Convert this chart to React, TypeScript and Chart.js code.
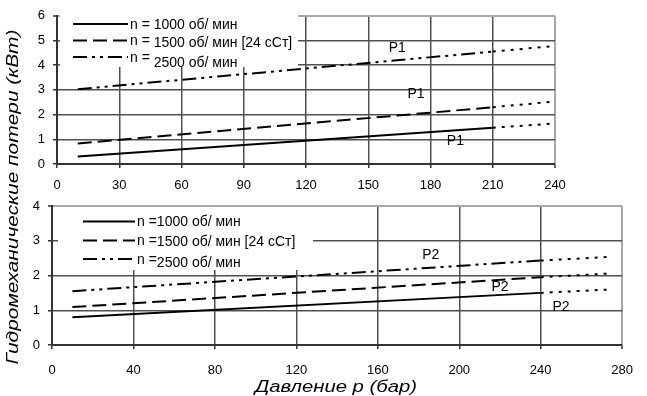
import React, { useEffect, useRef } from 'react';
import { Chart, registerables } from 'chart.js';

Chart.register(...registerables);

// ---------- DATA ----------
const topXTicks = [0, 30, 60, 90, 120, 150, 180, 210, 240];
const topYTicks = [0, 1, 2, 3, 4, 5, 6];
const bottomXTicks = [0, 40, 80, 120, 160, 200, 240, 280];
const bottomYTicks = [0, 1, 2, 3, 4];

// top chart (P1)
const topPressure = [10, 210];
const topPressureExt = [210, 240];
const top1000 = [0.3, 1.47];
const top1000Ext = [1.47, 1.64];
const top1500 = [0.83, 2.3];
const top1500Ext = [2.3, 2.53];
const top2500 = [3.03, 4.55];
const top2500Ext = [4.55, 4.78];

// bottom chart (P2)
const bottomPressure = [10, 240];
const bottomPressureExt = [240, 275];
const bottom1000 = [0.8, 1.5];
const bottom1000Ext = [1.5, 1.6];
const bottom1500 = [1.09, 1.95];
const bottom1500Ext = [1.95, 2.06];
const bottom2500 = [1.55, 2.43];
const bottom2500Ext = [2.43, 2.54];

const topLegendPrefix = ['n = ', 'n = ', 'n = '];
const topLegendText = ['1000 об/ мин', '1500 об/ мин [24 сСт]', '2500 об/ мин'];
const bottomLegendPrefix = ['n =', 'n =', 'n ='];
const bottomLegendText = ['1000 об/ мин', '1500 об/ мин [24 сСт]', '2500 об/ мин'];

const topNoteText = ['P1', 'P1', 'P1'];
const topNoteX = [164, 173, 192];
const topNoteY = [4.68, 2.81, 0.93];
const bottomNoteText = ['P2', 'P2', 'P2'];
const bottomNoteX = [186, 220, 250];
const bottomNoteY = [2.59, 1.66, 1.08];

const xTitle = 'Давление р (бар)';
const yTitle = 'Гидромеханические потери (кВт)';

// ---------- STYLE ----------
const FONT = '"Liberation Sans", Arial, sans-serif';
const SOLID: number[] = [];
const DASH = [14, 6];
const DASHDOT = [14, 5, 3, 5, 3, 5];
const DOT = [3, 6];

function ds(xs: number[], ys: number[], dash: number[]) {
  return {
    data: xs.map((x, i) => ({ x, y: ys[i] })),
    borderColor: '#000',
    borderWidth: 2,
    borderDash: dash,
    pointRadius: 0,
    fill: false,
    tension: 0,
  };
}

function axes(xTicks: number[], yTicks: number[], yWidth: number, xHeight: number, xPad: number) {
  const gridColor = (max: number) => (c: any) =>
    c.tick && c.tick.value === max ? '#a8a8a8' : '#505050';
  const xMax = xTicks[xTicks.length - 1];
  const yMax = yTicks[yTicks.length - 1];
  return {
    x: {
      type: 'linear',
      min: xTicks[0],
      max: xMax,
      afterBuildTicks: (s: any) => { s.ticks = xTicks.map((v) => ({ value: v })); },
      afterFit: (s: any) => { s.height = xHeight; },
      ticks: { font: { size: 13, family: FONT }, color: '#000', padding: xPad, maxRotation: 0, autoSkip: false },
      grid: { color: gridColor(xMax), lineWidth: (c: any) => (c.tick && c.tick.value === xMax ? 2 : 1.5), tickLength: 4, tickColor: '#333', tickWidth: 1.5 },
      border: { display: true, color: '#333', width: 2 },
    },
    y: {
      type: 'linear',
      min: yTicks[0],
      max: yMax,
      afterBuildTicks: (s: any) => { s.ticks = yTicks.map((v) => ({ value: v })); },
      afterFit: (s: any) => { s.width = yWidth; },
      ticks: { font: { size: 13, family: FONT }, color: '#000', padding: 8 },
      grid: { color: gridColor(yMax), lineWidth: (c: any) => (c.tick && c.tick.value === yMax ? 2 : 1.5), tickLength: 4, tickColor: '#333', tickWidth: 1.5 },
      border: { display: true, color: '#333', width: 2 },
    },
  };
}

function overlayPlugin(cfg: {
  box: [number, number, number, number];
  lineX: [number, number];
  textX: number;
  rowY: number[];
  textDy: number[];
  prefix: string[];
  text: string[];
  dashes: number[][];
  notes: string[];
  noteX: number[];
  noteY: number[];
  titles?: boolean;
}) {
  return {
    id: 'overlay' + Math.random().toString(36).slice(2),
    afterDatasetsDraw(chart: any) {
      const ctx = chart.ctx as CanvasRenderingContext2D;
      const [bx, by, bw, bh] = cfg.box;
      ctx.save();
      ctx.fillStyle = '#fff';
      ctx.fillRect(bx, by, bw, bh);
      ctx.strokeStyle = '#000';
      ctx.lineWidth = 2;
      cfg.rowY.forEach((y, i) => {
        ctx.setLineDash(cfg.dashes[i]);
        ctx.beginPath();
        ctx.moveTo(cfg.lineX[0], y);
        ctx.lineTo(cfg.lineX[1], y);
        ctx.stroke();
      });
      ctx.setLineDash([]);
      ctx.fillStyle = '#000';
      ctx.font = `14px ${FONT}`;
      ctx.textBaseline = 'middle';
      ctx.textAlign = 'left';
      cfg.rowY.forEach((y, i) => {
        const pw = ctx.measureText(cfg.prefix[i]).width;
        ctx.fillText(cfg.prefix[i], cfg.textX, y + 1);
        ctx.fillText(cfg.text[i], cfg.textX + pw, y + 1 + cfg.textDy[i]);
      });
      // notes
      const xs = chart.scales.x;
      const ys = chart.scales.y;
      ctx.textAlign = 'center';
      ctx.font = `14px ${FONT}`;
      cfg.notes.forEach((t, i) => {
        ctx.fillText(t, xs.getPixelForValue(cfg.noteX[i]), ys.getPixelForValue(cfg.noteY[i]));
      });
      if (cfg.titles) {
        ctx.font = `italic 16px ${FONT}`;
        // x title
        let w = ctx.measureText(xTitle).width;
        ctx.save();
        ctx.translate(336, 388);
        ctx.scale(162 / w, 1);
        ctx.fillText(xTitle, 0, 0);
        ctx.restore();
        // y title
        w = ctx.measureText(yTitle).width;
        ctx.save();
        ctx.translate(14, 197);
        ctx.rotate(-Math.PI / 2);
        ctx.scale(335 / w, 1);
        ctx.fillText(yTitle, 0, 0);
        ctx.restore();
      }
      ctx.restore();
    },
  };
}

export default function App() {
  const topRef = useRef<HTMLCanvasElement>(null);
  const botRef = useRef<HTMLCanvasElement>(null);

  useEffect(() => {
    const common = {
      animation: false,
      responsive: false,
      maintainAspectRatio: false,
      plugins: { legend: { display: false }, tooltip: { enabled: false } },
      events: [],
    };
    const top = new Chart(topRef.current!, {
      type: 'line',
      data: {
        datasets: [
          ds(topPressure, top1000, SOLID),
          ds(topPressureExt, top1000Ext, DOT),
          ds(topPressure, top1500, DASH),
          ds(topPressureExt, top1500Ext, DOT),
          ds(topPressure, top2500, DASHDOT),
          ds(topPressureExt, top2500Ext, DOT),
        ],
      },
      options: {
        ...common,
        layout: { padding: { left: 0, top: 12, right: 92, bottom: 396 - 164 - 30 } },
        scales: axes(topXTicks, topYTicks, 57, 30, 10),
      } as any,
      plugins: [
        overlayPlugin({
          box: [60, 13, 238, 54],
          lineX: [73, 128],
          textX: 130,
          rowY: [24, 40.5, 57],
          textDy: [0, 2, 5],
          prefix: topLegendPrefix,
          text: topLegendText,
          dashes: [SOLID, DASH, DASHDOT],
          notes: topNoteText,
          noteX: topNoteX,
          noteY: topNoteY,
        }),
      ],
    } as any);
    const bot = new Chart(botRef.current!, {
      type: 'line',
      data: {
        datasets: [
          ds(bottomPressure, bottom1000, SOLID),
          ds(bottomPressureExt, bottom1000Ext, DOT),
          ds(bottomPressure, bottom1500, DASH),
          ds(bottomPressureExt, bottom1500Ext, DOT),
          ds(bottomPressure, bottom2500, DASHDOT),
          ds(bottomPressureExt, bottom2500Ext, DOT),
        ],
      },
      options: {
        ...common,
        layout: { padding: { left: 0, top: 206, right: 12, bottom: 0 } },
        scales: axes(bottomXTicks, bottomYTicks, 52, 51, 14),
      } as any,
      plugins: [
        overlayPlugin({
          box: [58, 207, 255, 63],
          lineX: [83, 135],
          textX: 137,
          rowY: [221.5, 240.5, 259],
          textDy: [0, 1, 3],
          prefix: bottomLegendPrefix,
          text: bottomLegendText,
          dashes: [SOLID, DASH, DASHDOT],
          notes: bottomNoteText,
          noteX: bottomNoteX,
          noteY: bottomNoteY,
          titles: true,
        }),
      ],
    } as any);
    return () => {
      top.destroy();
      bot.destroy();
    };
  }, []);

  return (
    <div style={{ position: 'absolute', left: 0, top: 0, width: 647, height: 396, background: '#fff', overflow: 'hidden' }}>
      <canvas ref={topRef} width={647} height={396} style={{ position: 'absolute', left: 0, top: 0, display: 'block' }} />
      <canvas ref={botRef} width={647} height={396} style={{ position: 'absolute', left: 0, top: 0, display: 'block' }} />
    </div>
  );
}
